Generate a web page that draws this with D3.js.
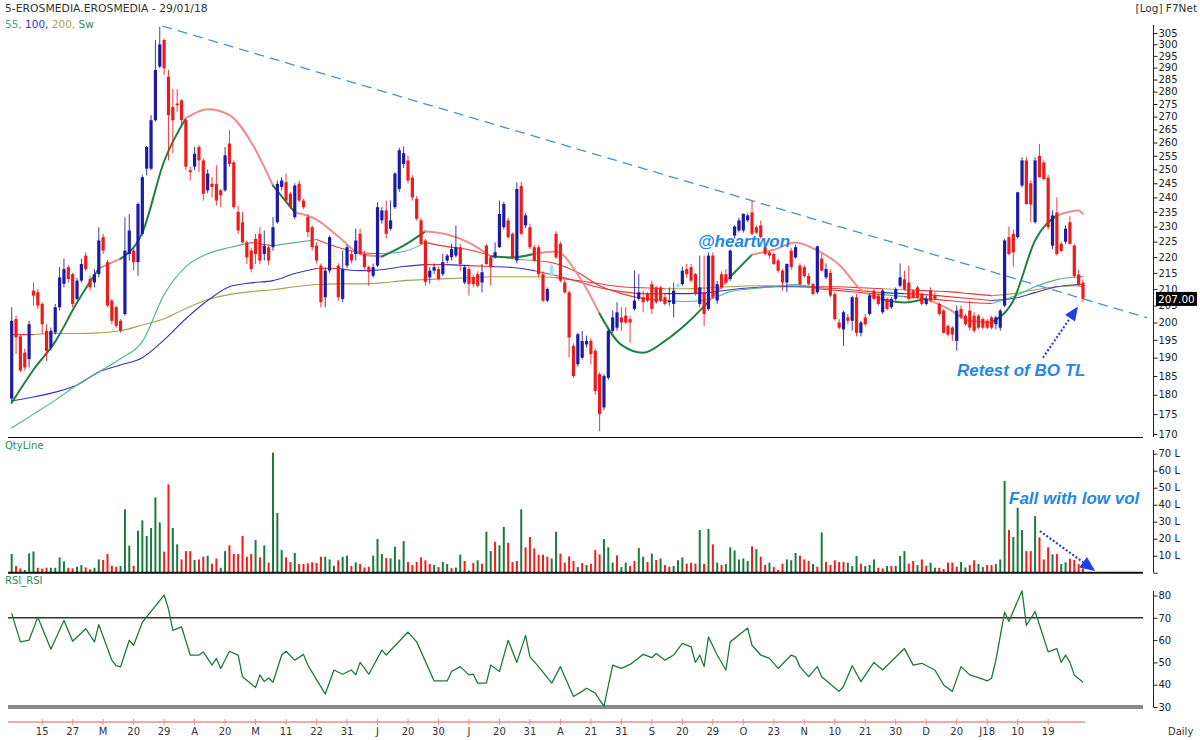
<!DOCTYPE html>
<html><head><meta charset="utf-8">
<script src="https://cdn.jsdelivr.net/npm/d3@7"></script>
<style>
body{margin:0;background:#fff;}
svg{display:block;font-family:"DejaVu Sans",Verdana,sans-serif;}
</style></head><body>
<svg id="c" width="1200" height="740"></svg>
<script>
// ---------- DATA ----------
const ohlc = [
[179,204.5,178.4,200.5],[201,202,191,195.7],[196,196.5,186,186.5],[191.4,192.5,186.5,187.3],[189.6,200.5,187.3,199.5],
[209.5,212,205,208],[209,210,204,205],[205.5,206,196.6,199.5],[197.6,199.5,189.1,191.9],[192.8,198.5,192,197.6],
[197.1,205.5,196.5,204.5],[204.5,216.8,203.5,213.6],[211.6,219.5,210.5,216.2],[216.8,217.5,212,213.1],[214.6,215,204.5,205.5],
[207,213.5,206.5,212.6],[212.6,219.5,212,217.8],[220.5,221.5,215.5,216.2],[213.1,214,209.5,210.5],[212,216.2,210.5,214.6],
[214.6,229.8,213.6,225.4],[226.5,227.6,221,222.1],[218.4,219,204.5,205],[206.5,207,199.5,200.5],[204.5,205,198.5,199],
[200.5,201,197.1,197.6],[202.5,233.2,202,222.1],[221,234.3,218.9,228.7],[222.1,223.2,215.7,218.4],[218.4,238.3,214.1,237.7],
[227.6,248,227,247.2],[250.3,258.8,247.8,258.3],[250.3,270.6,249.7,268.6],[268.6,301.9,268,289],[290.4,307.8,289.7,300],
[301.9,302.6,286.9,289.7],[286.2,289,253.3,270.6],[273.8,281,256,268.6],[275.2,281,271.9,274.5],[276.5,277,267,268.6],
[268.6,269,249.7,251],[249.7,251,246,249],[251,258.3,249.7,255.8],[258.3,259,249,253.3],[253.3,254,238.9,241.3],
[242.5,250,241.5,248.5],[244.8,247.2,240,243.7],[244.8,251.5,237.2,238.9],[242.5,243,236.6,240.7],[242.5,258.3,242,255.2],
[259.6,264.7,250.9,252],[252.6,253.3,236,236.6],[235,237.2,227.6,228.7],[231.5,235,224.5,224.8],[224.8,225.4,217.8,219.9],
[222.1,223,215.2,216.2],[225.9,227.6,217.8,221],[227.6,229.8,217.8,218.9],[221,228.7,218.9,223.7],[223.2,224,217.5,218.9],
[223.2,233.2,222.1,229.8],[231.5,246,231,244.8],[243.7,247.2,242.5,246],[245.4,248.5,238.3,238.9],[241.3,242,236,236.6],
[233.2,245,232.5,244.2],[244.8,246,238.3,238.9],[238.9,239.5,236,236.6],[233.2,234.3,226.5,228.2],[229.8,230.4,222.1,223.2],
[223.7,224.8,218,218.9],[217.3,218,204.5,206],[207.5,216.8,204.5,215.7],[215.7,227,215,226.5],[220.5,223,218,220.3],
[217.3,218,206.5,207.5],[207,222.1,206,216.2],[217.3,224,216.5,223.2],[221,222,218,218.9],[221,229.3,218.9,225.4],
[227.6,229.3,220.5,221],[221,222,216,216.8],[216.8,217.3,211,215.2],[214.1,218,213.5,216.8],[217.3,238.3,216.8,236.6],
[232.1,236.6,231,235.5],[235.5,238.9,226,227.6],[229.3,238.9,228.7,232.1],[236.6,249,236,248.5],[243,258,242,257.1],
[252,258.5,250.5,256],[253.3,255,245,246],[247,248,238.9,240],[239.5,240.5,232,232.6],[232.1,233,224,224.3],
[225.4,226,211,212.2],[213.6,216.8,211.6,215.7],[215.7,218,214.6,216.8],[216.2,217,212.6,213.1],[214.6,221,214,218.4],
[218.9,221,218,220.5],[220,224.3,218.9,222.6],[220.5,230.4,219.9,223.2],[223.2,224.3,215.7,217.8],[212,217.5,211.5,216.8],
[216.2,217,208,211.5],[213.6,214.5,210.5,211.5],[214.6,215.5,210.5,211],[212,217.8,209,215.2],[223.7,224.3,217.5,217.8],
[219.9,220.5,211,216.8],[220,224.8,219.5,221.6],[223.2,238.9,223,234.3],[229.8,238.5,229,237.7],[232.1,233,226,226.5],
[227.6,228,219.5,219.9],[218.9,245.4,218,243],[244,245.5,227,227.6],[230.4,234.5,229.5,233.8],[229.8,231,222.6,223.2],
[223.2,224,218.4,218.9],[223.2,224,213.6,214.6],[214.6,215.5,206,206.5],[206.5,210.5,206,210],[214,218,213.5,217.3],
[227.6,228.5,219.5,219.9],[224.3,225,212,212.6],[212,213,208.5,209],[209,209.5,190,195.7],[193.3,194,184.5,185],
[188.2,197,187.5,196.6],[190,197.6,189.5,194.7],[193.7,196.2,192.8,194.7],[194.7,195.5,188.2,191],[191.9,192.5,180,181],
[185.5,186,170.7,175],[176.7,185.5,176,185],[184.5,198,184,197.6],[197.6,203.5,197,201.5],[198.5,206,197.6,203],
[201.5,204.5,197.6,200],[202,204.5,199.5,200],[201,202,194.2,200],[204,215.7,203.5,206.5],[207,214.6,206.5,209],
[207.5,209.5,203,206],[208.5,209,206,206.5],[211.5,212.6,202.5,204],[210.5,211,205.5,206],[210.5,211,206,206.5],
[207.5,208.5,205,205.5],[206,210.5,205,206.5],[205.5,212,201.5,209.5],[210.5,212,210,211.5],[211.5,217,211,215.7],
[216.2,217.8,213.5,214.6],[216.8,217.8,212,212.6],[214.6,215,208,208.5],[205.5,220.5,204.5,210.5],[209,220.5,199,202.5],
[204,221.5,203.5,220.5],[220.5,221.5,207,207.5],[206.5,212.5,205.5,211.5],[214.6,215.5,210,210.5],[214.6,216.2,211.5,212],
[213.1,222.5,212.5,222.1],[227,230.5,226,230],[228.7,233,228,232.1],[228.7,234.5,228,234.3],[232.1,234.5,231.5,233.8],
[234.8,238.9,227,227.6],[229.8,230.5,227.5,228],[230.4,232,226,226.5],[223.2,224,220.5,221],[221.5,222,219.5,220.5],
[221,221.5,217.5,217.8],[218.9,219.5,215,215.7],[215.7,216.2,209.5,212],[212,218,209,217.8],[222.1,223,216,216.8],
[219.9,224,219.5,223.2],[217.3,218,211,211.5],[216.8,217.5,213.5,214],[214,215,211,211.5],[211.5,212,208,208.5],
[209,223.7,208.5,223.5],[219.5,221,215.5,215.7],[213.6,218,213,216.2],[215,216,207.5,208],[208.5,209,200.5,201],
[200,201,198,198.5],[198,203.5,193.3,203],[201.5,202.5,199.5,200.5],[200.5,208,197.6,207.5],[207.5,208.5,196,197],
[197,200.5,196,200],[201.5,202.5,199,199.5],[202.5,208.5,202,208],[209.5,210,206.5,207],[208,208.5,205,205.5],
[203,210,202.5,209.5],[207,207.5,203.5,204],[204.5,207.5,204,207],[207,210.5,206.5,210],[211,218,210.5,213.6],
[213,215.7,209.5,210],[212,217.3,206.5,207],[209.5,210,207,207.5],[210.5,211,207,207.5],[208.5,209,205,205.5],
[205.5,208,205,207],[209.5,210.5,206,206.5],[208,209,206.5,207],[205.5,206,202,202.5],[203.5,204,196.8,197],
[199,199.5,196,196.5],[198.5,199,194.7,196.5],[194.7,205,191.9,203.5],[204,205,201,201.5],[202,202.5,199,199.5],
[203.5,206.5,197.6,198.5],[202,203,197,197.6],[202,202.5,198,198.5],[201,201.5,198,198.5],[200.5,201,198,198.5],
[201.5,202,198,198.5],[199.5,202,198,201.5],[198.5,204,197.6,203.5],[205,226,204.5,225.4],[226.5,230,220.5,221],
[227.6,229,217,221.5],[226.5,242,226,241.8],[244.2,254.5,243.5,253.3],[253.3,254.5,237.5,237.7],[245,246,231.5,237.5],
[231.5,254.5,231,253.3],[255,259.5,247,247.2],[252.5,253.3,246,246.5],[247,248,229,229.8],[223.7,235.5,222.5,233.8],
[234.8,240,220.5,221],[224.3,225,221.5,222],[225,230.5,224.3,229.3],[231.5,233.5,224,224.3],[223.7,224.3,213.5,214],
[214.5,216,211,211.5],[212,213,206,207]
];
// highlighted candles (index -> fill)
const hlBars = [74,124,153];
const hlColors = ["#f4ee78","#8fe3f2","#8fe3f2"];

const volumes = [
11,3.9,2.5,1.6,11.4,12.5,2.9,2.4,2.9,2.9, 2.9,9,6.7,2.9,2.5,3.5,4.5,3.1,2,2.9,
7.8,7.5,11,4.1,3.5,3.9,37.3,15.9,4.1,24.7, 30.8,21.6,26.3,44.3,29.6,12.4,52,26.3,16.7,7.8,
12.7,12.7,7.5,7.8,9.4,10,5.3,8.4,2.9,12.7, 16.1,11,11,21.6,9.4,11,19.2,9,16.1,5.9,
70.6,35.1,13.3,9,6.3,11.6,5.1,5.1,5.5,6.1, 5.7,9.4,9.4,7.8,4.1,7.3,9.2,10,3.9,6.1,
5.1,3.1,3.5,10,19.8,11,8.6,8.4,15.3,
7.8,18.6,6.3,4.5,6.3,9,7.3,5.1,4.5,3.3, 6.3,5.1,2.7,3,10.6,6.9,1.2,5.7,7.3,5.3,
24.1,12.7,18.2,16.1,26.9,17.6,6.3,6.9,37.3,14.9, 21,14.3,10.6,10.6,9.4,8.4,24.1,11.2,5.9,9.6,
6.9,3.3,5.7,4.5,5.3,13.3,10.8,19.8,14.9,5.9, 10.2,3.3,5.9,4,6.9,14.5,9.4,6.3,11.2,7.5,
8.4,4.5,3.5,3.9,7.3,9,5.3,5.9,5.3,25.1, 5.3,25.7,16.7,5.9,4.5,5.1,14.9,13.1,7.8,8.4,
6.9,15.5,13.9,9.4,
4.5,5.9,3.3,1.6,5.3,7.8,7.3,11.6,10,7.8, 6.9,5.1,3.5,23.7,6.3,4.5,7.3,6.3,6.3,5.9,
3.9,9.8,5.3,3.9,4.5,7.8,2.9,2.5,3.9,3.9, 4.1,9.8,12.7,5.3,6.9,4.5,7.8,4.1,5.9,2.9,
2.9,2.2,5.9,5.9,3.5,6.3,3.1,4.5,7.3,5.1, 3.3,4.5,4.5,5.1,7.8,53.9,25.1,21,38.2,25.1,
12.7,12.7,33.3,20.8,7.8,14.9,10.8,11,5.1,6.1, 8.2,7.5,5.1,2.5
];
const volDir = ("grrgggrrrg"+"gggrrggrrg"+"grrrrgggrg"+"gggggrrggr"+"rrgrrgrrgg"+"rrrrrrgrgr"+"gggrrgrrrr"+"rrgggrggrg"+"rrrgggrgg"+
 "ggrrrrrrgr"+"ggrggrgrgr"+"ggrggrrrgr"+"rrrrrggrrr"+"rgrgrrrggg"+"rggrrggrgr"+"grrgggrrrg"+"rgrgrggggg"+"grgr"+
 "rgrrrgggrr"+"rgrgrrrrrg"+"ggrgggrrgr"+"gggrrgrrgg"+"rrrrrggrrg"+"grrgggrggg"+"rrgrrrgrgg"+"rrrr").split("");

const maBars = [0,5,10,15,20,25,30,35,40,45,50,55,60,65,70,75,80,85,90,95,100,105,110,115,120,125,130,135,140,145,150,155,160,165,170,175,180,185,190,195,200,205,210,215,220,225,230,235,240,245,246];
const ma55 = [171.5,175.0,178.6,182.6,186.1,189.7,194.5,208.3,217.0,221.1,223.1,224.7,223.7,224.7,225.7,223.1,221.5,221.1,221.8,224.7,223.4,222.4,220.5,219.5,218.9,217.9,215.1,211.0,208.6,207.1,206.5,206.2,206.8,209.2,210.1,210.7,211.4,210.1,209.5,208.9,208.3,207.7,207.1,206.5,205.9,205.6,207.7,210.7,212.9,213.8,213.8];
const ma100 = [178.4,179.4,180.7,182.6,186.1,188.0,190.0,195.0,201.1,206.5,210.7,211.9,212.6,214.8,216.4,216.4,215.7,216.0,217.0,217.6,217.6,217.3,217.0,216.7,215.7,214.2,212.3,210.4,209.2,208.6,208.6,208.6,208.9,209.8,210.4,210.7,210.7,210.4,210.1,209.5,208.9,208.6,208.3,207.7,207.1,206.5,207.1,208.9,210.7,211.4,211.4];
const ma200 = [196.5,196.5,196.8,196.8,197.0,197.6,199.3,201.1,204.1,206.8,208.3,209.2,209.8,210.7,211.4,211.6,211.6,211.9,212.6,212.9,213.2,213.5,213.8,213.8,213.8,213.5,212.6,211.6,210.7,210.4,210.1,210.1,210.4,210.7,211.0,211.0,211.0,210.7,210.7,210.4,210.1,209.8,209.5,209.2,208.6,208.0,208.6,209.8,210.7,211.0,210.7];
const maSw = [177.9,186.7,194.5,205.9,216.4,219.5,228.0,253.0,269.4,272.9,270.6,260.1,244.2,234.8,232.4,226.7,221.1,220.2,223.7,228.4,227.4,224.7,220.2,219.9,221.1,221.8,214.5,202.6,193.6,191.4,194.7,199.7,206.2,213.8,220.8,222.4,224.7,222.1,217.6,209.8,206.8,205.9,207.1,204.1,200.5,200.0,206.5,225.4,233.8,235.5,234.3];

const rsiBars = [0,2,4,6,9,12,14,17,19,20,23,24,25,27,28,30,35,36,37,39,41,43,44,46,47,48,50,52,53,56,57,58,59,60,62,63,65,67,68,72,74,76,78,79,80,82,85,86,89,91,93,97,100,101,103,105,106,107,109,110,112,114,116,118,119,121,124,126,127,129,131,132,134,136,138,140,142,145,147,148,150,152,154,156,157,158,159,160,162,164,165,169,170,172,174,176,179,180,181,183,185,186,190,191,193,195,198,200,205,207,209,212,214,216,218,220,222,224,225,226,228,229,232,233,235,236,238,240,241,242,243,244,246];
const rsiVals = [72,59.2,60,70.3,55.9,68.8,59.5,65.1,59.2,66.9,51,48.5,48,59.9,57.7,68,80.2,74,64.4,65.9,53.3,53.3,54.7,48.8,51.8,47.3,55,53.3,43.6,38.7,44.4,41.4,43,41.1,53.3,55,51,53.6,48.8,35.8,46.6,44.7,46.6,44.4,50,44.7,55.5,53.3,59.5,63.6,59.2,41.7,41.7,45.9,48.1,44.4,44.7,40.7,40.7,48.8,45.9,59.9,50,62.1,52.5,48.1,40.7,48.1,43.6,34.7,37,38.4,36.2,30.3,48.8,47.3,49.1,53.6,52.1,54,51,53.3,58.5,57,50,53.3,48.1,61.4,53.3,46.6,59.2,65.4,57.7,53.3,51.8,47.3,53.3,52.5,48.1,43.6,48.1,43.6,37,39.2,48.5,41.4,50,46.6,56.2,48.8,49.6,46.6,39.9,37,48.1,44.4,43.2,41.7,42.9,51,72.5,68.4,82.1,66.6,72.8,66.9,54.7,56.2,50,53.3,50,44.4,41.1];

const priceTicks = [170,175,180,185,190,195,200,205,210,215,220,225,230,235,240,245,250,255,260,265,270,275,280,285,290,295,300,305];
const volTicks = [0,10,20,30,40,50,60,70];
const rsiTicks = [30,40,50,60,70,80];
const dateBars = [7,14,21,28,35,42,49,56,63,70,77,84,91,98,105,112,119,126,133,140,147,154,161,168,175,182,189,196,203,210,217,224,231,238];
const dateLabels = ["15","27","M","20","29","A","20","M","11","22","31","J","20","30","J","20","31","A","21","31","S","20","29","O","23","N","10","21","30","D","20","J18","10","19"];

const lastPrice = 207.00;
const trendPts = [[34.6,308.1],[260.7,201.4]];        // [bar, price]
const retestArrow = [[236.8,190.0],[244.85,204.7]];   // [bar, price]
const volArrow = [[236.1,24.5],[248.8,1.0]];          // [bar, volume]

// ---------- SCALES ----------
const svg = d3.select("#c");
const N = ohlc.length;
const x = d3.scaleLinear().domain([0, N-1]).range([11.7, 1083]);
const yP = d3.scaleLog().domain([170, 305]).range([434, 33]);
const yV = d3.scaleLinear().domain([0, 70]).range([572.7, 453.7]);
const yR = d3.scaleLinear().domain([30, 80]).range([707, 595.5]);

const UP = "#1b1ba6", DN = "#ef1a1a";
const VG = "#1b7a3e", VR = "#f21c1c";

// ---------- FRAME LINES ----------
svg.append("line").attr("x1",8).attr("x2",1143).attr("y1",437.5).attr("y2",437.5).attr("stroke","#111").attr("stroke-width",1.2);
svg.append("line").attr("x1",8).attr("x2",1143).attr("y1",yR(70)).attr("y2",yR(70)).attr("stroke","#333").attr("stroke-width",1.6);
svg.append("line").attr("x1",8).attr("x2",1143).attr("y1",yR(30)).attr("y2",yR(30)).attr("stroke","#8a8a8a").attr("stroke-width",4);

// ---------- MOVING AVERAGES ----------
function drawMA(vals, col, redCol, width){
  const cols = [];
  for(let k=0;k<vals.length-1;k++){
    const a=maBars[k], b=maBars[k+1];
    let below=0, cnt=0;
    for(let i=a+1;i<=b;i++){
      const m = vals[k] + (vals[k+1]-vals[k])*(i-a)/(b-a);
      cnt++; if(ohlc[i][3] < m) below++;
    }
    cols.push(below*2 > cnt ? redCol : col);
  }
  const pts = maBars.map((b,k)=>[b, vals[k]]);
  const line = d3.line().x(d=>x(d[0])).y(d=>yP(d[1])).curve(d3.curveMonotoneX);
  let s=0;
  for(let k=1;k<=cols.length;k++){
    if(k===cols.length || cols[k]!==cols[s]){
      svg.append("path").attr("d", line(pts.slice(s, k+1)))
        .attr("fill","none").attr("stroke",cols[s]).attr("stroke-width",width)
        .attr("stroke-linejoin","round").attr("stroke-linecap","round");
      s=k;
    }
  }
}
drawMA(ma200, "#a9a24c", "#e23b3b", 1.1);
drawMA(ma100, "#3434c4", "#e23b3b", 1.1);
drawMA(ma55, "#4cb884", "#e23b3b", 1.1);
drawMA(maSw, "#1f8040", "#f28b8b", 2);

// ---------- CANDLES ----------
const gC = svg.append("g");
const colOf = (d,i)=>{ const h = hlBars.indexOf(i); if(h>=0) return hlColors[h]; return d[3]>=d[0]?UP:DN; };
gC.selectAll("line.wick").data(ohlc).join("line").attr("class","wick")
  .attr("x1",(d,i)=>x(i)).attr("x2",(d,i)=>x(i))
  .attr("y1",d=>yP(d[1])).attr("y2",d=>yP(d[2]))
  .attr("stroke",(d,i)=>colOf(d,i)).attr("stroke-width",1).attr("opacity",0.85);
gC.selectAll("rect.body").data(ohlc).join("rect").attr("class","body")
  .attr("x",(d,i)=>x(i)-1.6).attr("width",3.2)
  .attr("y",d=>yP(Math.max(d[0],d[3])))
  .attr("height",d=>Math.max(1.2, Math.abs(yP(d[0])-yP(d[3]))))
  .attr("fill",(d,i)=>colOf(d,i));

// ---------- TRENDLINE ----------
svg.append("line")
  .attr("x1",x(trendPts[0][0])).attr("y1",yP(trendPts[0][1]))
  .attr("x2",x(trendPts[1][0])).attr("y2",yP(trendPts[1][1]))
  .attr("stroke","#4a90dc").attr("stroke-width",1.3).attr("stroke-dasharray","10,6");

// ---------- VOLUME ----------
svg.append("g").selectAll("rect").data(volumes).join("rect")
  .attr("x",(d,i)=>x(i)-1).attr("width",2)
  .attr("y",d=>yV(d)).attr("height",d=>yV(0)-yV(d))
  .attr("fill",(d,i)=>volDir[i]==="g"?VG:VR);
svg.append("line").attr("x1",8).attr("x2",1143).attr("y1",yV(0)).attr("y2",yV(0)).attr("stroke","#111").attr("stroke-width",2);

// ---------- RSI ----------
const rsiLine = d3.line().x((d,i)=>x(rsiBars[i])).y(d=>yR(d));
svg.append("path").attr("d",rsiLine(rsiVals)).attr("fill","none").attr("stroke","#1f7a3a").attr("stroke-width",1.3).attr("stroke-linejoin","round");

// ---------- RIGHT AXES ----------
function styleAxis(g){
  g.selectAll(".tick line").attr("stroke","#222");
  g.selectAll(".tick text").attr("fill","#222").attr("font-size","10px").attr("font-family","DejaVu Sans, Verdana, sans-serif");
  g.select(".domain").remove();
}
const gP = svg.append("g").attr("transform","translate(1153.5,0)")
  .call(d3.axisRight(yP).tickValues(priceTicks).tickFormat(d3.format("d")).tickSize(4).tickPadding(1));
styleAxis(gP);
gP.append("line").attr("y1",25).attr("y2",437).attr("stroke","#222");

const gV = svg.append("g").attr("transform","translate(1153.5,0)")
  .call(d3.axisRight(yV).tickValues(volTicks).tickFormat(d=>d===0?"":d+" L").tickSize(4).tickPadding(1));
styleAxis(gV);
gV.append("line").attr("y1",450).attr("y2",yV(0)).attr("stroke","#222");

const gR = svg.append("g").attr("transform","translate(1153.5,0)")
  .call(d3.axisRight(yR).tickValues(rsiTicks).tickFormat(d3.format("d")).tickSize(4).tickPadding(1));
styleAxis(gR);
gR.append("line").attr("y1",591).attr("y2",yR(30)).attr("stroke","#222");

// last price badge (drawn over the axis, as in the original)
svg.append("rect").attr("x",1156).attr("y",yP(lastPrice)-7).attr("width",41).attr("height",14).attr("fill","#000");
svg.append("text").attr("x",1158).attr("y",yP(lastPrice)).attr("dy","0.35em")
  .attr("fill","#fff").attr("font-size","10.5px").text(lastPrice.toFixed(2));

// ---------- DATE AXIS ----------
svg.append("line").attr("x1",8).attr("x2",1085).attr("y1",722).attr("y2",722).attr("stroke","#f08c8c").attr("stroke-width",1.5);
svg.append("g").selectAll("line").data(dateBars).join("line")
  .attr("x1",d=>x(d)).attr("x2",d=>x(d)).attr("y1",719).attr("y2",725).attr("stroke","#f08c8c");
svg.append("g").selectAll("text").data(dateLabels).join("text")
  .attr("x",(d,i)=>x(dateBars[i])).attr("y",735).attr("text-anchor","middle")
  .attr("font-size","10px").attr("fill","#333").text(d=>d);
svg.append("text").attr("x",1168).attr("y",735).attr("font-size","10px").attr("fill","#333").text("Daily");

// ---------- HEADERS ----------
svg.append("text").attr("x",5).attr("y",12).attr("font-size","10.8px").attr("fill","#333").text("5-EROSMEDIA.EROSMEDIA - 29/01/18");
svg.append("text").attr("x",1197).attr("y",12).attr("text-anchor","end").attr("font-size","10.5px").attr("fill","#333").text("[Log] F7Net");
const lg = svg.append("text").attr("x",5).attr("y",28).attr("font-size","10.5px");
lg.append("tspan").attr("fill","#3fae78").text("55, ");
lg.append("tspan").attr("fill","#3434c4").text("100, ");
lg.append("tspan").attr("fill","#a9a24c").text("200, ");
lg.append("tspan").attr("fill","#2e8b57").text("Sw");
svg.append("text").attr("x",5).attr("y",449).attr("font-size","10px").attr("fill","#2e8b57").text("QtyLine");
svg.append("text").attr("x",5).attr("y",584).attr("font-size","10px").attr("fill","#2e8b57").text("RSI_RSI");

// ---------- ANNOTATIONS ----------
const annFont = "Liberation Sans, Arial, sans-serif";
function ann(tx, ty, t){
  svg.append("text").attr("x",tx).attr("y",ty).attr("font-family",annFont).attr("font-size","17px")
    .attr("font-weight","bold").attr("font-style","italic").attr("fill","#2288e8").text(t);
}
ann(698, 247, "@heartwon");
ann(957, 376, "Retest of BO TL");
ann(1009, 504, "Fall with low vol");

function arrow(p0, p1, hl, hw){
  const dx=p1[0]-p0[0], dy=p1[1]-p0[1], L=Math.hypot(dx,dy), ux=dx/L, uy=dy/L;
  const bx=p1[0]-ux*hl, by=p1[1]-uy*hl;
  svg.append("line").attr("x1",p0[0]).attr("y1",p0[1]).attr("x2",bx).attr("y2",by)
    .attr("stroke","#2a3fd8").attr("stroke-width",2.2).attr("stroke-dasharray","2,2");
  svg.append("polygon").attr("points",[[p1[0],p1[1]],[bx-uy*hw,by+ux*hw],[bx+uy*hw,by-ux*hw]].map(p=>p.join(",")).join(" "))
    .attr("fill","#1f3fe8");
}
arrow([x(retestArrow[0][0]), yP(retestArrow[0][1])],[x(retestArrow[1][0]), yP(retestArrow[1][1])], 14, 6);
arrow([x(volArrow[0][0]), yV(volArrow[0][1])],[x(volArrow[1][0]), yV(volArrow[1][1])], 15, 6.5);
</script>
</body></html>
